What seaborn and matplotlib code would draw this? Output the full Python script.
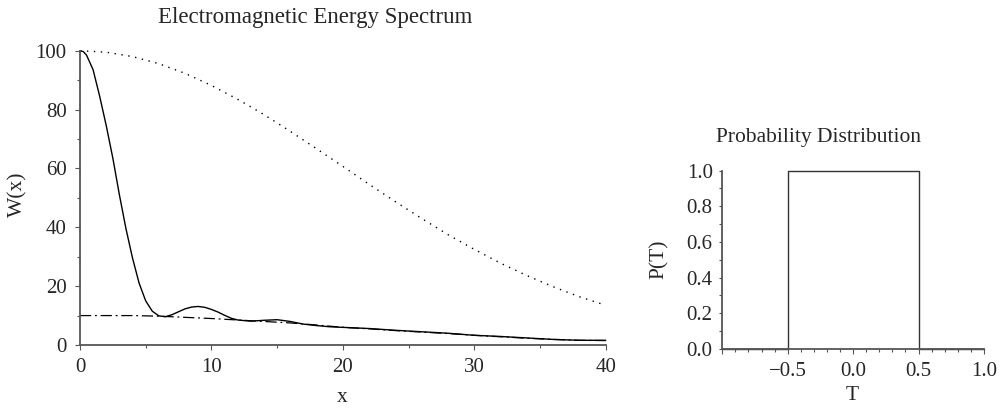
import numpy as np
import pandas as pd
import seaborn as sns
import matplotlib.pyplot as plt
from matplotlib.ticker import MultipleLocator

# left panel: energy spectrum
x_solid = [0, 0.25, 0.5, 1.0, 1.5, 2.0, 2.5, 3.0, 3.5, 4.0, 4.5, 5.0, 5.5, 6.0, 6.5,
           7.0, 7.5, 8.0, 8.5, 9.0, 9.5, 10.0, 10.5, 11.0, 11.5, 12.0, 13.0, 14.0,
           15.0, 16.0, 17.0, 18.0, 19.0, 20.0, 22.0, 24.0, 26.0, 28.0, 30.0, 32.0,
           34.0, 36.0, 38.0, 40.0]
w_solid = [100, 99.7, 98.5, 93.5, 84.5, 74.5, 63.5, 51, 39.5, 29.5, 21, 15, 11.5, 9.9, 9.6,
           10.3, 11.3, 12.3, 12.9, 13.1, 12.8, 12.1, 11.2, 10.1, 9.1, 8.5, 8.1, 8.4,
           8.6, 8.0, 7.1, 6.6, 6.2, 6.0, 5.6, 5.0, 4.5, 4.0, 3.3, 2.9,
           2.4, 1.9, 1.6, 1.6]

x_dashdot = [0, 2, 4, 6, 8, 10, 12, 14, 16, 18, 20, 22, 24, 26, 28, 30, 32, 34, 36, 38, 40]
w_dashdot = [10, 10, 10, 9.8, 9.4, 9.0, 8.5, 8.0, 7.5, 6.8, 6.0, 5.5, 4.9, 4.4, 3.9,
             3.3, 2.8, 2.3, 1.9, 1.6, 1.5]

x_dotted = [0, 2, 4, 6, 8, 10, 12, 14, 16, 18, 20, 22, 24, 26, 28, 30, 32, 34, 36, 38, 40]
w_dotted = [100, 99.5, 98.0, 95.6, 92.3, 88.2, 83.5, 78.3, 72.6, 66.7, 60.7, 54.6, 48.7,
            43.0, 37.5, 32.5, 27.8, 23.6, 19.8, 16.4, 13.5]

# right panel: probability distribution (step)
t_vals = [-1.0, -0.5, 0.5, 1.0]
p_vals = [0.0, 1.0, 0.0, 0.0]

sns.set_style("ticks")
plt.rcParams['font.family'] = ['Liberation Serif', 'DejaVu Serif']

fig = plt.figure(figsize=(10.01, 4.12), dpi=100)
ax1 = fig.add_axes([0.0799, 0.1626, 0.5252, 0.7143])
ax2 = fig.add_axes([0.7216, 0.1536, 0.2614, 0.4321])

axis_col = '#555555'

sns.lineplot(x=x_dotted, y=w_dotted, ax=ax1, color='black', lw=1.0,
             linestyle=(0, (1, 4)), clip_on=False)
sns.lineplot(x=x_dashdot, y=w_dashdot, ax=ax1, color='black', lw=0.9,
             linestyle=(0, (9, 3, 1.5, 3)), clip_on=False)
sns.lineplot(x=x_solid, y=w_solid, ax=ax1, color='black', lw=1.0, clip_on=False)

ax1.set_xlim(0, 40)
ax1.set_ylim(0, 100)
ax1.xaxis.set_major_locator(MultipleLocator(10))
ax1.xaxis.set_minor_locator(MultipleLocator(5))
ax1.yaxis.set_major_locator(MultipleLocator(20))
ax1.yaxis.set_minor_locator(MultipleLocator(10))

sns.lineplot(x=t_vals, y=p_vals, ax=ax2, color='#333333', lw=1.0,
             drawstyle='steps-post', sort=False, estimator=None, clip_on=False)
ax2.set_xlim(-1, 1)
ax2.set_ylim(0, 1)
ax2.set_xticks([-1.0, -0.5, 0.0, 0.5, 1.0])
ax2.set_xticklabels(['', '\u22120.5', '0.0', '0.5', '1.0'])
ax2.xaxis.set_minor_locator(MultipleLocator(0.1))
ax2.yaxis.set_major_locator(MultipleLocator(0.2))
ax2.yaxis.set_minor_locator(MultipleLocator(0.1))
ax2.yaxis.set_major_formatter(plt.FormatStrFormatter('%.1f'))

for ax in (ax1, ax2):
    sns.despine(ax=ax)
    for s in ('left', 'bottom'):
        ax.spines[s].set_color(axis_col)
        ax.spines[s].set_linewidth(1.3)
    ax.tick_params(which='major', length=3.6, width=0.8, color=axis_col,
                   labelsize=15)
    ax.tick_params(which='minor', length=2.4, width=0.8, color=axis_col)
    ax.tick_params(axis='x', which='major', pad=6)
    ax.set_facecolor('white')

ax1.tick_params(axis='y', which='major', pad=6)
ax2.tick_params(axis='y', which='major', length=2.4, pad=4.5)

ax1.set_xlabel('x', fontsize=15.5)
ax1.set_ylabel('W(x)', fontsize=15.5)
ax2.set_xlabel('T', fontsize=15.5)
ax2.set_ylabel('P(T)', fontsize=15.5)
ax1.xaxis.set_label_coords(0.3417, 0.058, transform=fig.transFigure)
ax2.xaxis.set_label_coords(0.851, 0.062, transform=fig.transFigure)
ax1.yaxis.set_label_coords(0.018, 0.529, transform=fig.transFigure)
ax2.yaxis.set_label_coords(0.6583, 0.3714, transform=fig.transFigure)
ax1.yaxis.label.set_verticalalignment('center')
ax2.yaxis.label.set_verticalalignment('center')

fig.text(0.3152, 0.945, 'Electromagnetic Energy Spectrum', ha='center',
         va='baseline', fontsize=16.5)
fig.text(0.8172, 0.656, 'Probability Distribution', ha='center',
         va='baseline', fontsize=15.5)

fig.savefig('out.png', dpi=100, facecolor='white')
